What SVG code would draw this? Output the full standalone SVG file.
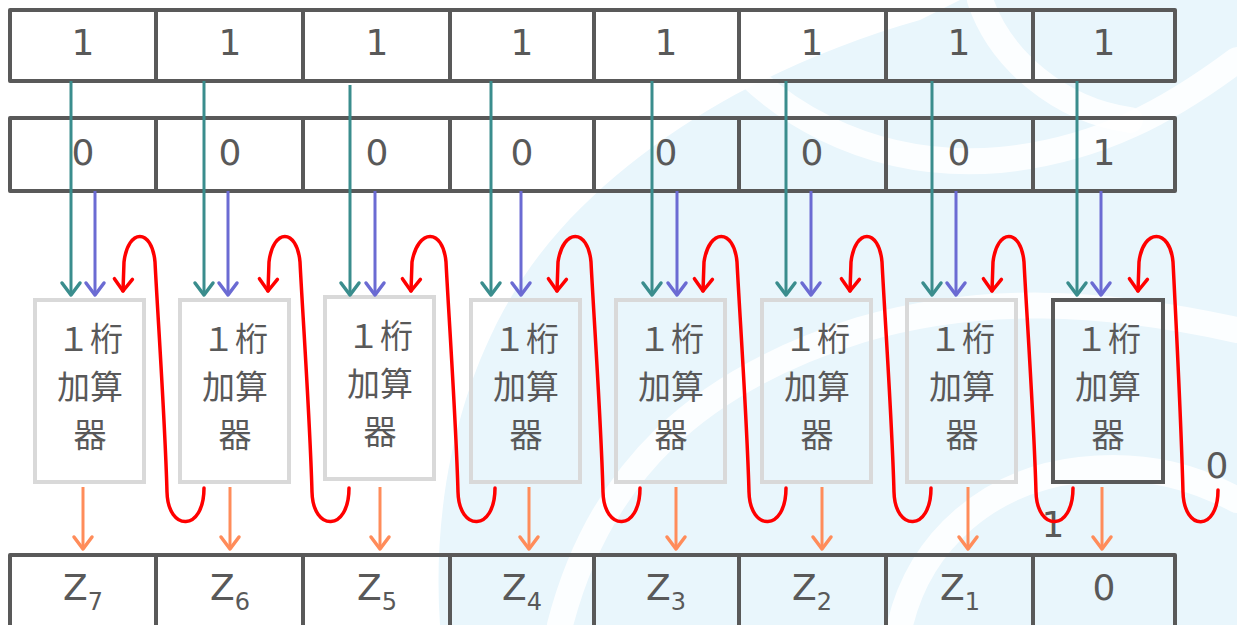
<svg xmlns="http://www.w3.org/2000/svg" width="1237" height="625" viewBox="0 0 1237 625">
<defs>
<style>
.cell{fill:none;stroke:#595959;stroke-width:4;stroke-linejoin:round}
.t{font-family:"DejaVu Sans","Liberation Sans",sans-serif;font-size:36px;fill:#595959;text-anchor:middle}
.z{font-family:"DejaVu Sans","Liberation Sans",sans-serif;font-size:36px;fill:#595959}
.sub{font-size:24px}
.adder{fill:none;stroke:#d9d9d9;stroke-width:4}
.adder.active{stroke:#595959}
.at{font-family:"Noto Sans CJK JP","Noto Sans CJK SC",sans-serif;font-size:33px;fill:#595959;text-anchor:middle}
.teal{stroke:#3a8d8d;stroke-width:3;fill:none;marker-end:url(#mTeal)}
.purp{stroke:#6b6bd3;stroke-width:3;fill:none;marker-end:url(#mPurp)}
.org{stroke:#ff8c5a;stroke-width:3;fill:none;marker-end:url(#mOrg)}
.red{stroke:#ff0000;stroke-width:3.5;fill:none;stroke-linecap:round;marker-end:url(#mRed)}
.wm{fill:#e9f6fc}
.wmw{fill:none;stroke:#ffffff;stroke-width:26;stroke-linecap:round;opacity:0.85}
</style>
<marker id="mTeal" markerUnits="userSpaceOnUse" markerWidth="30" markerHeight="30" refX="0" refY="0" viewBox="-15 -15 30 30" orient="auto" overflow="visible"><path d="M-12,-9 L0,0 L-12,9" fill="none" stroke="#3a8d8d" stroke-width="3.5" stroke-linecap="round" stroke-linejoin="round"/></marker>
<marker id="mPurp" markerUnits="userSpaceOnUse" markerWidth="30" markerHeight="30" refX="0" refY="0" viewBox="-15 -15 30 30" orient="auto" overflow="visible"><path d="M-12,-9 L0,0 L-12,9" fill="none" stroke="#6b6bd3" stroke-width="3.5" stroke-linecap="round" stroke-linejoin="round"/></marker>
<marker id="mOrg" markerUnits="userSpaceOnUse" markerWidth="30" markerHeight="30" refX="0" refY="0" viewBox="-15 -15 30 30" orient="auto" overflow="visible"><path d="M-12,-9 L0,0 L-12,9" fill="none" stroke="#ff8c5a" stroke-width="3.5" stroke-linecap="round" stroke-linejoin="round"/></marker>
<marker id="mRed" markerUnits="userSpaceOnUse" markerWidth="30" markerHeight="30" refX="0" refY="0" viewBox="-15 -15 30 30" orient="auto" overflow="visible"><path d="M-12,-9 L0,0 L-12,9" fill="none" stroke="#ff0000" stroke-width="3.5" stroke-linecap="round" stroke-linejoin="round"/></marker>
</defs>

<g id="background">
<rect width="1237" height="625" fill="#ffffff"/>
<path class="wm" d="M440,625 C430,480 470,330 560,230 C650,130 780,60 920,20 L960,0 L1237,0 L1237,625 Z"/>
<path class="wmw" d="M560,625 C600,470 700,380 860,330 C980,295 1100,300 1237,330"/>
<path class="wmw" d="M690,0 C760,120 880,170 1000,160 C1100,150 1170,110 1237,60"/>
<path class="wmw" d="M900,625 C920,540 990,480 1080,470 C1150,462 1200,480 1237,500"/>
<path class="wmw" d="M980,0 C1000,60 1060,110 1130,120"/>
</g>

<g id="row-a">
<path class="cell" d="M10,10 H1175 V81 H10 Z M156,10 V81 M303,10 V81 M450,10 V81 M594,10 V81 M739,10 V81 M886,10 V81 M1033,10 V81"/>
<text class="t" x="83" y="55">1</text>
<text class="t" x="230" y="55">1</text>
<text class="t" x="377" y="55">1</text>
<text class="t" x="522" y="55">1</text>
<text class="t" x="666" y="55">1</text>
<text class="t" x="812" y="55">1</text>
<text class="t" x="959" y="55">1</text>
<text class="t" x="1104" y="55">1</text>
</g>

<g id="row-b">
<path class="cell" d="M10,118 H1175 V191 H10 Z M156,118 V191 M303,118 V191 M450,118 V191 M594,118 V191 M739,118 V191 M886,118 V191 M1033,118 V191"/>
<text class="t" x="83" y="165">0</text>
<text class="t" x="230" y="165">0</text>
<text class="t" x="377" y="165">0</text>
<text class="t" x="522" y="165">0</text>
<text class="t" x="666" y="165">0</text>
<text class="t" x="812" y="165">0</text>
<text class="t" x="959" y="165">0</text>
<text class="t" x="1104" y="165">1</text>
</g>

<g id="row-z">
<path class="cell" d="M10,640 V555 H1175 V640 M156,555 V640 M303,555 V640 M450,555 V640 M594,555 V640 M739,555 V640 M886,555 V640 M1033,555 V640"/>
<text class="z" x="63" y="600">Z<tspan class="sub" dy="10">7</tspan></text>
<text class="z" x="210" y="600">Z<tspan class="sub" dy="10">6</tspan></text>
<text class="z" x="357" y="600">Z<tspan class="sub" dy="10">5</tspan></text>
<text class="z" x="502" y="600">Z<tspan class="sub" dy="10">4</tspan></text>
<text class="z" x="646" y="600">Z<tspan class="sub" dy="10">3</tspan></text>
<text class="z" x="792" y="600">Z<tspan class="sub" dy="10">2</tspan></text>
<text class="z" x="940" y="600">Z<tspan class="sub" dy="10">1</tspan></text>
<text class="t" x="1104" y="600">0</text>
</g>

<g id="adder-7"><rect class="adder" x="35" y="300" width="109" height="182"/>
<text class="at"><tspan x="90" y="351">１桁</tspan><tspan x="90" y="399">加算</tspan><tspan x="90" y="447">器</tspan></text></g>
<g id="adder-6"><rect class="adder" x="180" y="300" width="109" height="182"/>
<text class="at"><tspan x="235" y="351">１桁</tspan><tspan x="235" y="399">加算</tspan><tspan x="235" y="447">器</tspan></text></g>
<g id="adder-5"><rect class="adder" x="325" y="297" width="109" height="182"/>
<text class="at"><tspan x="380" y="348">１桁</tspan><tspan x="380" y="396">加算</tspan><tspan x="380" y="444">器</tspan></text></g>
<g id="adder-4"><rect class="adder" x="471" y="300" width="109" height="182"/>
<text class="at"><tspan x="526" y="351">１桁</tspan><tspan x="526" y="399">加算</tspan><tspan x="526" y="447">器</tspan></text></g>
<g id="adder-3"><rect class="adder" x="616" y="300" width="109" height="182"/>
<text class="at"><tspan x="671" y="351">１桁</tspan><tspan x="671" y="399">加算</tspan><tspan x="671" y="447">器</tspan></text></g>
<g id="adder-2"><rect class="adder" x="762" y="300" width="109" height="182"/>
<text class="at"><tspan x="817" y="351">１桁</tspan><tspan x="817" y="399">加算</tspan><tspan x="817" y="447">器</tspan></text></g>
<g id="adder-1"><rect class="adder" x="907" y="300" width="109" height="182"/>
<text class="at"><tspan x="962" y="351">１桁</tspan><tspan x="962" y="399">加算</tspan><tspan x="962" y="447">器</tspan></text></g>
<g id="adder-0"><rect class="adder active" x="1053" y="300" width="110" height="182"/>
<text class="at"><tspan x="1108" y="351">１桁</tspan><tspan x="1108" y="399">加算</tspan><tspan x="1108" y="447">器</tspan></text></g>

<g id="labels">
<text class="t" x="1053" y="537">1</text>
<text class="t" x="1217" y="478">0</text>
</g>

<g id="connectors">
<path class="teal" d="M71,81 V295"/>
<path class="teal" d="M204,81 V295"/>
<path class="teal" d="M350,85 V295"/>
<path class="teal" d="M491,81 V295"/>
<path class="teal" d="M652,81 V295"/>
<path class="teal" d="M786,81 V295"/>
<path class="teal" d="M932,81 V295"/>
<path class="teal" d="M1077,81 V295"/>

<path class="purp" d="M95,191 V295"/>
<path class="purp" d="M228,191 V295"/>
<path class="purp" d="M375,191 V295"/>
<path class="purp" d="M521,191 V295"/>
<path class="purp" d="M677,191 V295"/>
<path class="purp" d="M811,191 V295"/>
<path class="purp" d="M956,191 V295"/>
<path class="purp" d="M1101,191 V295"/>

<path class="org" d="M83,487 V549"/>
<path class="org" d="M230,487 V549"/>
<path class="org" d="M380,487 V549"/>
<path class="org" d="M529,487 V549"/>
<path class="org" d="M676,487 V549"/>
<path class="org" d="M822,487 V549"/>
<path class="org" d="M968,487 V549"/>
<path class="org" d="M1102,487 V549"/>

<path class="red" d="M204,488 C204,532 168,532 167,492 C165,420 158,320 155,262 C152,228 128,228 124,262 L123,291"/>
<path class="red" d="M349,488 C349,532 313,532 312,492 C310,420 303,320 300,262 C297,228 273,228 269,262 L268,291"/>
<path class="red" d="M495,488 C495,532 459,532 458,492 C456,420 449,320 446,262 C443,228 418,228 412,262 L411,291"/>
<path class="red" d="M640,488 C640,532 604,532 603,492 C601,420 594,320 591,262 C588,228 563,228 558,262 L557,291"/>
<path class="red" d="M786,488 C786,532 750,532 749,492 C747,420 740,320 737,262 C734,228 709,228 704,262 L703,291"/>
<path class="red" d="M931,488 C931,532 895,532 894,492 C892,420 885,320 882,262 C879,228 855,228 851,262 L850,291"/>
<path class="red" d="M1073,488 C1073,532 1037,532 1036,492 C1034,420 1027,320 1024,262 C1021,228 997,228 993,262 L992,291"/>
<path class="red" d="M1218,490 C1218,532 1184,532 1183,492 C1181,420 1176,320 1173,262 C1170,228 1143,228 1139,262 L1138,291"/>
</g>
</svg>
